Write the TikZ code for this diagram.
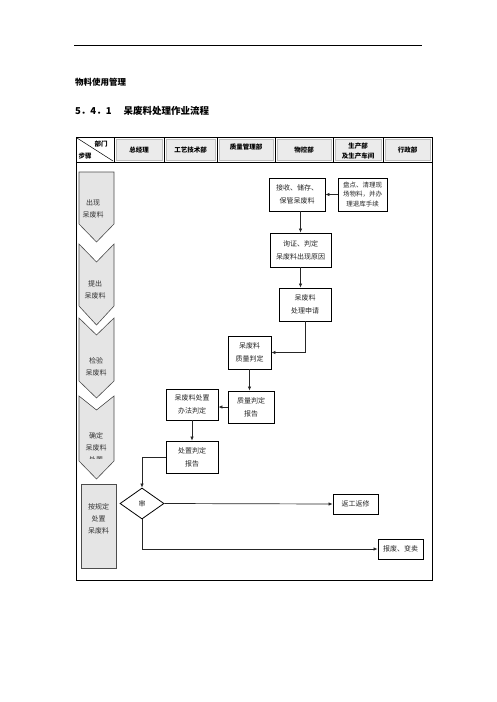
\documentclass[tikz,border=0pt]{standalone}
\usepackage{fontspec}
\setmainfont{Noto Sans CJK SC}
\usetikzlibrary{shapes.geometric,arrows.meta}

\tikzset{
  flowbox/.style={draw,line width=0.8pt,inner sep=0pt,align=center,text=black!85,font=\fontsize{7}{13}\selectfont},
  stepbar/.style={fill=black!10,draw=black!70,line width=0.6pt},
  steptext/.style={align=center,text=black!80,font=\fontsize{7}{12}\selectfont},
  headcell/.style={fill=black!8,draw=black!25,line width=0.4pt},
  headtext/.style={align=center,font=\fontsize{6.5}{10}\selectfont\bfseries},
  flowline/.style={->,draw=black!85,line width=0.7pt}
}

\begin{document}
\begin{tikzpicture}[x=1pt,y=-1pt,>={Latex[length=4pt,width=3.5pt]}]
            \useasboundingbox (0,0) rectangle (496,702);
            \draw[line width=0.8pt] (74,45) -- (422,45);
            \node[anchor=west,inner sep=0pt,font=\fontsize{8.5}{10}\selectfont\bfseries] (title) at (75,82) {物料使用管理};
            \node[anchor=west,inner sep=0pt,font=\fontsize{9.5}{11}\selectfont\bfseries] (subtitle) at (75,111) {5．4．1\hspace{12pt}呆废料处理作业流程};
            \foreach \a/\b in {114/164,164/217,217/275,275/333,333/383,383/432}
                \draw[headcell] (\a+2,139) rectangle (\b-1.5,160.5);
            \draw[line width=0.8pt] (76,137) rectangle (432,580);
            \draw[line width=0.8pt] (76,162) -- (432,162);
            \foreach \x in {114,164,217,275,333,383}
                \draw[line width=0.6pt] (\x,137) -- (\x,162);
            \draw[line width=0.5pt] (77,138) -- (113,161);
            \node[headtext] (dept) at (101,144) {部门};
            \node[headtext] (step) at (85,156) {步骤};
            \node[headtext] (gm) at (139,150) {总经理};
            \node[headtext] (tech) at (190.5,150) {工艺技术部};
            \node[headtext] (qm) at (246,147) {质量管理部};
            \node[headtext] (mc) at (304,150) {物控部};
            \node[headtext] (prod) at (358,151) {生产部\\及生产车间};
            \node[headtext] (admin) at (407.5,150) {行政部};
            \foreach \t/\n/\s/\p in {172/172/224/242,244/262/306/325,318/335/381/398,396/410/461/479}
                \draw[stepbar] (79,\t) -- (96.5,\n) -- (114,\t) -- (114,\s) -- (96.5,\p) -- (79,\s) -- cycle;
            \draw[stepbar] (81,484) rectangle (116,568);
            \node[steptext] (appear) at (93,209) {出现\\呆废料};
            \node[steptext] (raise) at (95,290) {提出\\呆废料};
            \node[steptext] (inspect) at (96,367) {检验\\呆废料};
            \begin{scope}
                \clip (79,396) rectangle (114,458.5);
                \node[steptext] (decide) at (96,448) {确定\\呆废料\\处置};
            \end{scope}
            \node[steptext] (handle) at (98.5,519) {按规定\\处置\\呆废料};
            \node[flowbox,minimum width=56pt,minimum height=33pt] (recv) at (297,194.5) {接收、储存、\\保管呆废料};
            \node[flowbox,minimum width=49pt,minimum height=33pt,font=\fontsize{6.5}{9.5}\selectfont] (count) at (362.5,194.5) {盘点、清理现\\场物料，并办\\理退库手续};
            \node[flowbox,minimum width=61pt,minimum height=34pt] (verify) at (300.5,250) {询证、判定\\呆废料出现原因};
            \node[flowbox,minimum width=52pt,minimum height=33pt] (apply) at (305,304.5) {呆废料\\处理申请};
            \node[flowbox,minimum width=43pt,minimum height=33pt] (quality) at (249.5,352.5) {呆废料\\质量判定};
            \node[flowbox,minimum width=46pt,minimum height=32pt] (qreport) at (251,407) {质量判定\\报告};
            \node[flowbox,minimum width=52pt,minimum height=31pt] (method) at (192,404.5) {呆废料处置\\办法判定};
            \node[flowbox,minimum width=52pt,minimum height=32pt] (dreport) at (192,457) {处置判定\\报告};
            \node[flowbox,diamond,aspect=1.42,minimum width=44pt,minimum height=31pt] (audit) at (142,503.5) {审};
            \node[flowbox,minimum width=45pt,minimum height=20pt] (rework) at (355.5,504) {返工返修};
            \node[flowbox,minimum width=45pt,minimum height=20pt] (scrap) at (400.5,549) {报废、变卖};
            \draw[flowline] (count.west) -- (recv.east);
            \draw[flowline] (recv.south -| verify.north) -- (verify.north);
            \draw[flowline] (verify.south) -- (verify.south |- apply.north);
            \draw[flowline] (apply.south) |- (quality.east);
            \draw[flowline] (quality.south) -- (quality.south |- qreport.north);
            \draw[flowline] (qreport.west) -- (qreport.west -| method.east);
            \draw[flowline] (method.south) -- (dreport.north);
            \draw[flowline] (dreport.west) -| (audit.north);
            \draw[flowline] (audit.east) -- (rework.west);
            \draw[flowline] (audit.south) |- (scrap.west);
        \end{tikzpicture}
\end{document}
